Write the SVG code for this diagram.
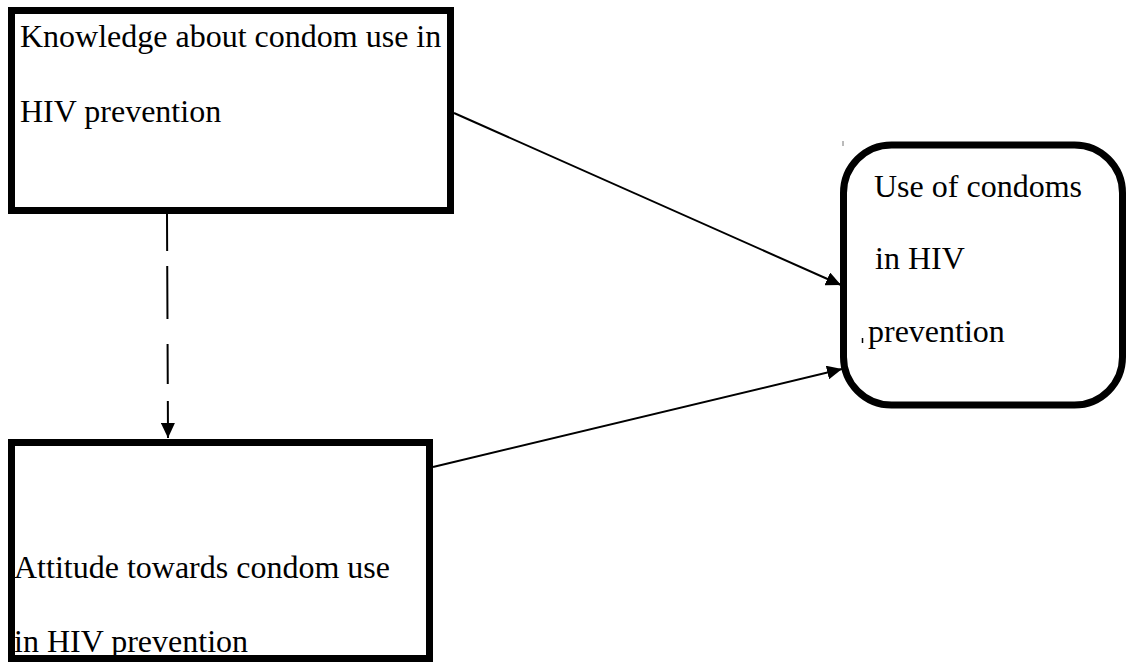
<svg xmlns="http://www.w3.org/2000/svg" width="1126" height="662" viewBox="0 0 1126 662">
<style>
.box{fill:#fff;stroke:#000;stroke-width:7}
.lbl{font-size:32px;fill:#000}
.conn{stroke:#000;stroke-width:2;fill:none}
</style>
<defs>
<marker id="ah" markerUnits="userSpaceOnUse" markerWidth="16" markerHeight="14" refX="15" refY="7" orient="auto">
<path d="M0,0 L15,7 L0,14 Z" fill="#000"/>
</marker>
</defs>
<rect width="1126" height="662" fill="#fff"/>
<g font-family="Liberation Serif, serif">
<g id="knowledge">
<rect class="box" x="11.5" y="10.5" width="439" height="200"/>
<text class="lbl" x="20" y="47">Knowledge about condom use in</text>
<text class="lbl" x="20" y="122">HIV prevention</text>
</g>
<g id="attitude">
<rect class="box" x="11.5" y="442.5" width="418" height="216"/>
<text class="lbl" x="14" y="578">Attitude towards condom use</text>
<text class="lbl" x="14" y="652">in HIV prevention</text>
</g>
<g id="use">
<rect class="box" x="843.5" y="145" width="279" height="260" rx="48" ry="48" stroke-width="6.5"/>
<text class="lbl" x="874" y="197">Use of condoms</text>
<text class="lbl" x="875" y="269">in HIV</text>
<text class="lbl" x="868" y="342">prevention</text>
<line x1="862.5" y1="338" x2="862.5" y2="343" stroke="#000" stroke-width="1.5"/>
<line x1="843" y1="141" x2="843" y2="146" stroke="#777" stroke-width="1"/>
</g>
</g>
<g id="connectors">
<line class="conn" x1="454" y1="113" x2="841" y2="285" marker-end="url(#ah)"/>
<line class="conn" x1="433" y1="467" x2="842" y2="369" marker-end="url(#ah)"/>
<line class="conn" x1="167" y1="214" x2="168" y2="438" stroke-dasharray="37 15 53 25 40 17 100" marker-end="url(#ah)"/>
</g>
</svg>
